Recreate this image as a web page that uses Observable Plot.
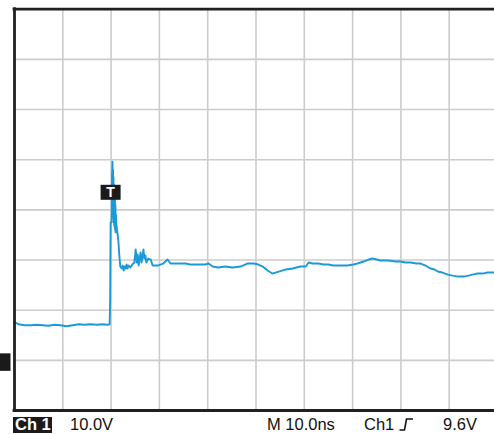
<!DOCTYPE html>
<html>
<head>
<meta charset="utf-8">
<script src="https://cdn.jsdelivr.net/npm/d3@7"></script>
<script src="https://cdn.jsdelivr.net/npm/@observablehq/plot@0.6"></script>
<style>
  html, body { margin: 0; padding: 0; background: #fff; }
  #wrap { position: relative; width: 494px; height: 434px; overflow: hidden; font-family: "Liberation Sans", Arial, sans-serif; }
  #chart svg { display: block; }
  #labels { position: absolute; left: 0; top: 413px; width: 494px; height: 21px; }
  .lbl { position: absolute; top: 3px; font-size: 16.5px; line-height: 16.5px; color: #111; white-space: nowrap; }
  #ch1box { position: absolute; left: 13px; top: 4px; width: 39px; height: 16px; background: #1a1a1a; }
  #ch1box span { position: absolute; left: 2px; top: -1px; font-weight: bold; color: #fff; font-size: 16.5px; line-height: 16.5px; }
</style>
</head>
<body>
<div id="wrap">
  <div id="chart"></div>
  <div id="labels"></div>
</div>
<script>
// Time axis: 10 ns/div, 10 divisions. Voltage: 10 V/div, ground one division above bottom.
const timeTicks = [0, 10, 20, 30, 40, 50, 60, 70, 80, 90, 100];
const voltTicks = [-10, 0, 10, 20, 30, 40, 50, 60, 70];
const groundLevel = 0;
const triggerTime = 20;
const triggerMarkerLevel = 33.4;

const timeNs = [
  0, 0.8, 2.1, 3.3, 4.6, 5.8, 7.0, 8.3, 9.5, 10.8,
  12.0, 13.3, 14.5, 15.7, 17.0, 18.2, 19.3, 19.7, 19.8, 19.9,
  20.1, 20.2, 20.3, 20.35, 20.4, 20.45, 20.5, 20.55, 20.6, 20.65, 20.7, 20.75, 20.8, 20.85, 20.9, 20.95, 21.0,
  21.1, 21.3, 21.5, 21.7, 21.9, 22.2, 22.4, 22.6, 22.8, 23.0,
  23.2, 23.4, 23.6, 24.0, 24.4, 24.8, 25.1, 25.3, 25.5, 25.7,
  25.9, 26.1, 26.3, 26.5, 26.7, 26.9, 27.1, 27.3, 27.7, 28.2,
  28.6, 29.2, 29.8, 30.2, 30.8, 31.7, 32.3, 33.3, 34.4, 35.4,
  36.4, 37.5, 38.5, 39.5, 40.2, 41.0, 42.2, 43.7, 45.1, 46.8,
  48.2, 49.5, 50.5, 51.4, 52.4, 53.4, 54.7, 56.1, 57.6, 59.2,
  60.3, 60.9, 61.7, 62.9, 64.0, 65.0, 66.0, 67.5, 68.9, 70.2,
  71.0, 72.3, 73.3, 74.1, 75.0, 75.8, 77.4, 78.9, 79.9, 81.0,
  82.0, 83.2, 84.1, 85.1, 86.1, 87.0, 87.6, 88.6, 89.7, 90.7,
  91.9, 93.0, 94.0, 94.8, 95.9, 96.9, 97.9, 99.2
];
const volts = [
  7.6, 7.2, 7.0, 7.0, 7.1, 7.0, 6.9, 7.1, 7.0, 6.8,
  7.0, 7.2, 7.1, 7.2, 7.1, 7.2, 7.1, 7.2, 12.0, 27.5,
  27.5, 36.9, 39.6, 29.5, 38.0, 28.5, 36.5, 27.5, 35.0, 26.9, 33.9, 26.5, 32.0, 25.9, 30.9, 25.5, 29.0,
  27.0, 25.5, 23.9, 20.9, 18.7, 18.3, 18.9, 17.9, 18.7, 18.3,
  19.1, 18.3, 18.9, 18.5, 19.1, 19.5, 22.1, 19.5, 21.1, 18.9,
  20.3, 21.5, 19.5, 20.7, 22.1, 20.3, 20.9, 19.5, 20.3, 20.1,
  18.9, 18.9, 18.9, 19.1, 19.3, 20.1, 19.3, 19.3, 19.3, 19.3,
  19.1, 19.1, 19.1, 19.1, 19.3, 18.7, 18.5, 18.7, 18.5, 18.7,
  19.3, 19.3, 19.1, 18.7, 17.9, 17.3, 17.7, 18.1, 18.3, 18.7,
  18.7, 19.5, 19.3, 19.3, 19.1, 19.1, 18.9, 18.9, 18.9, 19.1,
  19.3, 19.7, 20.1, 20.3, 20.1, 19.9, 19.9, 19.7, 19.7, 19.5,
  19.5, 19.3, 19.3, 18.9, 18.3, 18.1, 17.7, 17.5, 17.1, 16.9,
  16.7, 16.7, 16.9, 17.1, 17.3, 17.3, 17.5, 17.5
];

const trace = timeNs.map((t, i) => ({t, v: volts[i]}));
const gridX = timeTicks.slice(1);
const gridY = voltTicks.slice(1, -1);
const vMin = voltTicks[0], vMax = voltTicks[voltTicks.length - 1];
const tMin = timeTicks[0], tMax = timeTicks[timeTicks.length - 1];

const frameColor = "#231f20";
const gridColor = "#cccccc";
const traceColor = "#1b9ad8";

const plot = Plot.plot({
  width: 494,
  height: 413,
  marginLeft: 14, marginRight: 0, marginTop: 9, marginBottom: 3,
  x: {domain: [tMin, tMax], range: [14, 497], axis: null},
  y: {domain: [vMin, vMax], range: [410, 8.7], axis: null},
  marks: [
    Plot.ruleX(gridX, {y1: vMin, y2: vMax, stroke: gridColor, strokeWidth: 1.6}),
    Plot.ruleY(gridY, {x1: tMin, x2: tMax, stroke: gridColor, strokeWidth: 1.6}),
    Plot.line(trace, {x: "t", y: "v", stroke: traceColor, strokeWidth: 1.9, strokeLinejoin: "round"}),
    Plot.ruleY([vMax, vMin], {x1: tMin, x2: tMax, stroke: frameColor, strokeWidth: 2.8, strokeLinecap: "square"}),
    Plot.ruleX([tMin], {y1: vMin, y2: vMax, stroke: frameColor, strokeWidth: 2.8, strokeLinecap: "square"}),
    // ground level marker on the left edge
    (index, scales) => {
      const y = scales.y(groundLevel);
      return d3.create("svg:rect")
        .attr("x", 0).attr("y", y - 6.5).attr("width", 10.5).attr("height", 17.5)
        .attr("fill", "#1a1a1a").node();
    },
    // trigger "T" marker
    (index, scales) => {
      const x = scales.x(triggerTime), y = scales.y(triggerMarkerLevel);
      const g = d3.create("svg:g");
      g.append("rect").attr("x", x - 10).attr("y", y - 7.5).attr("width", 20).attr("height", 15).attr("fill", "#1a1a1a");
      g.append("text").attr("x", x).attr("y", y + 5).attr("text-anchor", "middle")
        .attr("fill", "#fff").attr("font-weight", "bold").attr("font-size", 14)
        .attr("font-family", "'Liberation Sans', Arial, sans-serif").text("T");
      return g.node();
    }
  ]
});
document.getElementById("chart").appendChild(plot);

const labels = document.getElementById("labels");
labels.innerHTML = `
  <div id="ch1box"><span>Ch 1</span></div>
  <span class="lbl" style="left:70px">10.0V</span>
  <span class="lbl" style="left:267px">M 10.0ns</span>
  <span class="lbl" style="left:364px">Ch1</span>
  <svg style="position:absolute;left:399px;top:5px" width="15" height="13"><path d="M0.5,12 H5.5 L7.5,1 H14" fill="none" stroke="#111" stroke-width="1.6"/></svg>
  <span class="lbl" style="left:443px">9.6V</span>
`;
</script>
</body>
</html>
